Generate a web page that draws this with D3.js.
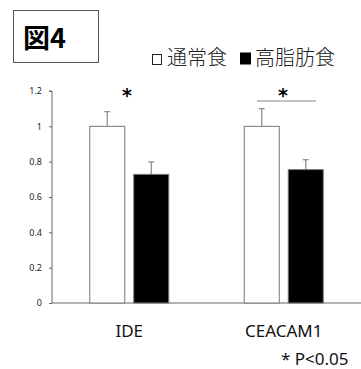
<!DOCTYPE html>
<html>
<head>
<meta charset="utf-8">
<script src="https://cdn.jsdelivr.net/npm/d3@7"></script>
<style>
  body { margin: 0; background: #fff; }
  svg { display: block; }
</style>
</head>
<body>
<svg></svg>
<script>
let width = 361, height = 369;

// data
let genes = ["IDE", "CEACAM1"];
let groups = ["通常食", "高脂肪食"];
let means = [[1.0, 0.728], [1.0, 0.755]];
let errors = [[0.083, 0.07], [0.10, 0.056]];
let yTicks = [0, 0.2, 0.4, 0.6, 0.8, 1, 1.2];
let fills = ["#fff", "#000"];

let svg = d3.select("svg")
    .attr("width", width)
    .attr("height", height);

let x0 = d3.scaleBand().domain(genes).range([52, 361]);
let y = d3.scaleLinear().domain([0, 1.2]).range([303, 91]);

// title box
svg.append("rect")
    .attr("x", 13.5).attr("y", 10.5)
    .attr("width", 85).attr("height", 52)
    .attr("fill", "none").attr("stroke", "#555").attr("stroke-width", 1);
svg.append("text")
    .attr("x", 23).attr("y", 48)
    .attr("font-family", "Noto Sans CJK JP")
    .attr("font-weight", "bold")
    .attr("font-size", 27)
    .text("図4");

// legend
let legendX = [152, 240];
groups.forEach((grp, j) => {
    let lx = legendX[j];
    if (j === 0) {
        svg.append("rect")
            .attr("x", lx + 0.5).attr("y", 54.5)
            .attr("width", 9).attr("height", 10)
            .attr("fill", "#fff").attr("stroke", "#222").attr("stroke-width", 1);
    } else {
        svg.append("rect")
            .attr("x", lx).attr("y", 52.5)
            .attr("width", 11).attr("height", 12)
            .attr("fill", "#000");
    }
    svg.append("text")
        .attr("x", lx + 15).attr("y", 65)
        .attr("font-family", "Noto Sans CJK JP")
        .attr("font-weight", 300)
        .attr("font-size", 20)
        .attr("fill", "#222")
        .text(grp);
});

// y axis
let yAxis = svg.append("g")
    .attr("transform", "translate(52,0)")
    .call(d3.axisLeft(y).tickValues(yTicks).tickSize(3).tickPadding(7)
        .tickFormat(d => d3.format("")(d)));
yAxis.select(".domain").attr("stroke", "#666").attr("d", "M0," + y(1.2) + "H-3M0," + y(1.2) + "V" + y(0));
yAxis.selectAll(".tick line").attr("stroke", "#666");
yAxis.selectAll(".tick text")
    .attr("font-family", "Noto Sans").attr("font-size", 9).attr("fill", "#222");

// x axis line
svg.append("line")
    .attr("x1", 52).attr("x2", 361)
    .attr("y1", y(0)).attr("y2", y(0))
    .attr("stroke", "#666");

// bars
let barW = 35, gap = 9;
genes.forEach((g, i) => {
    let cx = x0(g) + x0.bandwidth() / 2;
    groups.forEach((grp, j) => {
        let bx = j === 0 ? cx - gap / 2 - barW : cx + gap / 2;
        let top = y(means[i][j]);
        let et = y(means[i][j] + errors[i][j]);
        svg.append("line")
            .attr("x1", bx + barW / 2).attr("x2", bx + barW / 2)
            .attr("y1", top).attr("y2", et)
            .attr("stroke", "#888").attr("stroke-width", 1.2);
        svg.append("line")
            .attr("x1", bx + barW / 2 - 3).attr("x2", bx + barW / 2 + 3)
            .attr("y1", et).attr("y2", et)
            .attr("stroke", "#888").attr("stroke-width", 1.2);
        svg.append("rect")
            .attr("x", bx).attr("y", top)
            .attr("width", barW).attr("height", y(0) - top)
            .attr("fill", fills[j])
            .attr("stroke", "#777").attr("stroke-width", 1);
    });
    svg.append("text")
        .attr("x", cx).attr("y", 337)
        .attr("text-anchor", "middle")
        .attr("font-family", "Noto Sans")
        .attr("font-size", 17)
        .attr("fill", "#111")
        .text(g);
});

// significance marks
svg.append("text")
    .attr("x", 127).attr("y", 102)
    .attr("text-anchor", "middle")
    .attr("font-family", "DejaVu Sans").attr("font-weight", "bold")
    .attr("font-size", 19)
    .text("*");
svg.append("line")
    .attr("x1", 257).attr("x2", 316)
    .attr("y1", 101).attr("y2", 101)
    .attr("stroke", "#888").attr("stroke-width", 1.2);
svg.append("text")
    .attr("x", 283).attr("y", 102)
    .attr("text-anchor", "middle")
    .attr("font-family", "DejaVu Sans").attr("font-weight", "bold")
    .attr("font-size", 19)
    .text("*");

svg.append("text")
    .attr("x", 281).attr("y", 365)
    .attr("font-family", "Noto Sans")
    .attr("font-size", 17)
    .attr("fill", "#111")
    .text("* P<0.05");
</script>
</body>
</html>
